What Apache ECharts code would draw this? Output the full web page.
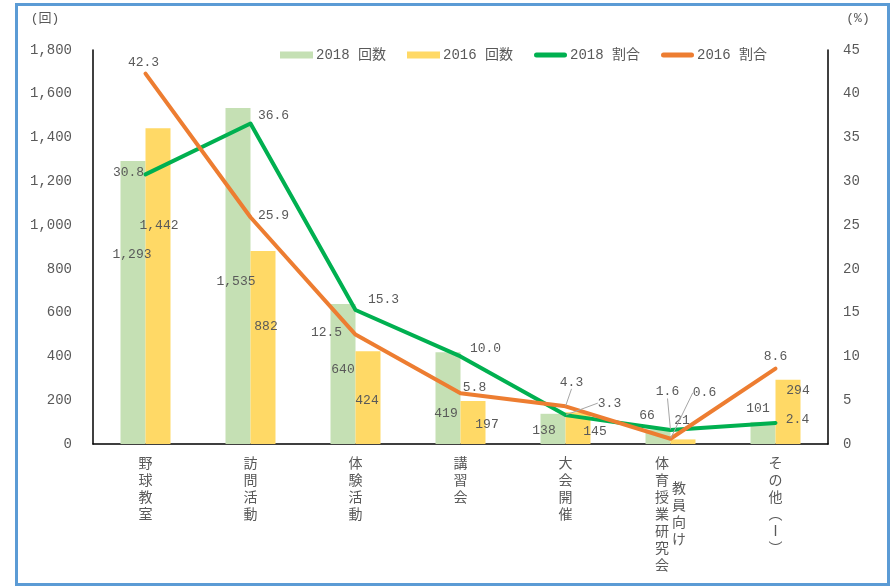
<!DOCTYPE html>
<html>
<head>
<meta charset="utf-8">
<script src="https://cdn.jsdelivr.net/npm/echarts@6/dist/echarts.min.js"></script>
<style>
html,body{margin:0;padding:0;background:#fff;}
#chart{position:absolute;left:0;top:0;width:893px;height:587px;}
#frame{position:absolute;left:15px;top:3px;width:869px;height:577px;border:3px solid #5B9BD5;pointer-events:none;}
</style>
</head>
<body>
<div id="chart"></div>
<div id="frame"></div>
<script>
// ---- data ----
const categories = ['野球教室', '訪問活動', '体験活動', '講習会', '大会開催', '体育授業研究会（教員向け）', 'その他（Ⅰ）'];
const count2018 = [1293, 1535, 640, 419, 138, 66, 101];
const count2016 = [1442, 882, 424, 197, 145, 21, 294];
const ratio2018 = [30.8, 36.6, 15.3, 10.0, 3.3, 1.6, 2.4];
const ratio2016 = [42.3, 25.9, 12.5, 5.8, 4.3, 0.6, 8.6];
const seriesNames = ['2018 回数', '2016 回数', '2018 割合', '2016 割合'];
const leftAxis = { min: 0, max: 1800, interval: 200, name: '(回)' };
const rightAxis = { min: 0, max: 45, interval: 5, name: '(%)' };

// ---- label layout (offsets relative to default label anchor) ----
const offG = [[-1, -48], [-2, 6], [0, -4], [-2, 15], [-9, 2], [-11, -21], [-5, -24]];
const offY = [[1, -61], [3, -21], [-1, 3], [14, 2], [17, 3], [-1, -21], [10, -21]];
const offGL = [[-17, -2], [23, -8], [28, -10], [25, -8], [44, -12], [-3, -38], [22, -3]];
const offOL = [[-2, -11], [23, -2], [-29, -2], [14, -6], [6, -24], [34, -46], [0, -12]];
const leaderG = [false, false, false, false, true, true, false];
const leaderO = [false, false, false, false, true, true, false];

const TXT = '#595959';
const NUMFONT = "'Liberation Mono', 'Noto Sans CJK JP', monospace";
const JPFONT = "'Noto Sans CJK JP', sans-serif";
const LINE_ICON = 'path://M2.5,0 L30.5,0 A2.5,2.5 0 0 1 30.5,5 L2.5,5 A2.5,2.5 0 0 1 2.5,0 Z';

function fmtThousand(v) { return String(v).replace(/\B(?=(\d{3})+(?!\d))/g, ','); }

const vMap = { '（': '︵', '）': '︶' };
function vertical(name) {
  const m = name.match(/^(.*)（(.*)）$/);
  if (m && m[1].length > 4) {
    // two-column vertical label, second column offset by half a row
    const main = m[1].split('');
    const sub = m[2].split('');
    const lines = ['{p| }'];
    const total = Math.max(main.length * 2 - 1, 3 + sub.length * 2);
    for (let k = 0; k < total; k++) {
      let a = '　', b = '　';
      if (k % 2 === 0 && main[k / 2]) a = main[k / 2];
      if (k >= 3 && (k - 3) % 2 === 0 && sub[(k - 3) / 2]) b = sub[(k - 3) / 2];
      lines.push('{h|' + a + ' ' + b + '}');
    }
    return lines.join('\n');
  }
  return name.split('').map(c => vMap[c] || c).join('\n');
}

const chart = echarts.init(document.getElementById('chart'), null, { renderer: 'canvas' });

function barSeries(name, values, color, off) {
  return {
    name, type: 'bar', yAxisIndex: 0, data: values,
    barWidth: 25, barGap: '0%',
    itemStyle: { color },
    label: {
      show: true, position: 'inside', color: TXT, fontSize: 13, fontFamily: NUMFONT,
      formatter: p => fmtThousand(p.value)
    },
    labelLayout: p => ({ dx: off[p.dataIndex][0], dy: off[p.dataIndex][1] }),
    z: 2
  };
}
function lineSeries(name, values, color, off, leader) {
  return {
    name, type: 'line', yAxisIndex: 1,
    data: values.map((v, i) => leader[i]
      ? { value: v, labelLine: { show: true, lineStyle: { color: '#A6A6A6', width: 1 } } }
      : v),
    symbol: 'circle', symbolSize: 1, showSymbol: true,
    itemStyle: { color },
    lineStyle: { color, width: 4, cap: 'round', join: 'round' },
    label: {
      show: true, position: 'inside', color: TXT, fontSize: 13, fontFamily: NUMFONT,
      formatter: p => Number(p.value).toFixed(1)
    },
    labelLine: { show: false, lineStyle: { color: '#A6A6A6', width: 1 } },
    labelLayout: p => ({ dx: off[p.dataIndex][0], dy: off[p.dataIndex][1] }),
    z: 5
  };
}

const option = {
  backgroundColor: '#fff',
  animation: false,
  grid: { left: 93, right: 65, top: 50, bottom: 143, containLabel: false },
  legend: {
    data: [
      { name: seriesNames[0], icon: 'rect' },
      { name: seriesNames[1], icon: 'rect' },
      { name: seriesNames[2], icon: LINE_ICON },
      { name: seriesNames[3], icon: LINE_ICON }
    ],
    left: 275, top: 43,
    itemWidth: 33, itemHeight: 7, itemGap: 21,
    textStyle: { color: TXT, fontSize: 14, fontFamily: NUMFONT, padding: [0, 0, 0, -2] }
  },
  xAxis: {
    type: 'category', data: categories,
    axisLine: { show: true, lineStyle: { color: '#000', width: 1.5 } },
    axisTick: { show: false },
    axisLabel: {
      interval: 0, margin: 10, color: TXT, fontSize: 14, lineHeight: 17, fontFamily: JPFONT,
      formatter: v => vertical(v),
      rich: {
        h: { fontSize: 14, lineHeight: 8.5, color: TXT, fontFamily: JPFONT },
        p: { fontSize: 4, lineHeight: 4.25, color: TXT, fontFamily: JPFONT }
      }
    }
  },
  yAxis: [
    {
      type: 'value', min: leftAxis.min, max: leftAxis.max, interval: leftAxis.interval,
      name: leftAxis.name, nameLocation: 'end', nameGap: 25,
      nameTextStyle: { color: TXT, fontSize: 13, fontFamily: NUMFONT, align: 'center', padding: [0, 96, 0, 0] },
      axisLine: { show: true, lineStyle: { color: '#000', width: 1.5 } },
      axisTick: { show: false },
      splitLine: { show: false },
      axisLabel: { color: TXT, fontSize: 14, fontFamily: NUMFONT, margin: 21, formatter: v => fmtThousand(v) }
    },
    {
      type: 'value', min: rightAxis.min, max: rightAxis.max, interval: rightAxis.interval,
      name: rightAxis.name, nameLocation: 'end', nameGap: 25,
      nameTextStyle: { color: TXT, fontSize: 13, fontFamily: NUMFONT, align: 'center', padding: [0, 0, 0, 60] },
      axisLine: { show: true, lineStyle: { color: '#000', width: 1.5 } },
      axisTick: { show: false },
      splitLine: { show: false },
      axisLabel: { color: TXT, fontSize: 14, fontFamily: NUMFONT, margin: 15 }
    }
  ],
  series: [
    barSeries(seriesNames[0], count2018, '#C5E0B4', offG),
    barSeries(seriesNames[1], count2016, '#FFD966', offY),
    lineSeries(seriesNames[2], ratio2018, '#00B050', offGL, leaderG),
    lineSeries(seriesNames[3], ratio2016, '#ED7D31', offOL, leaderO)
  ]
};
chart.setOption(option);
</script>
</body>
</html>
